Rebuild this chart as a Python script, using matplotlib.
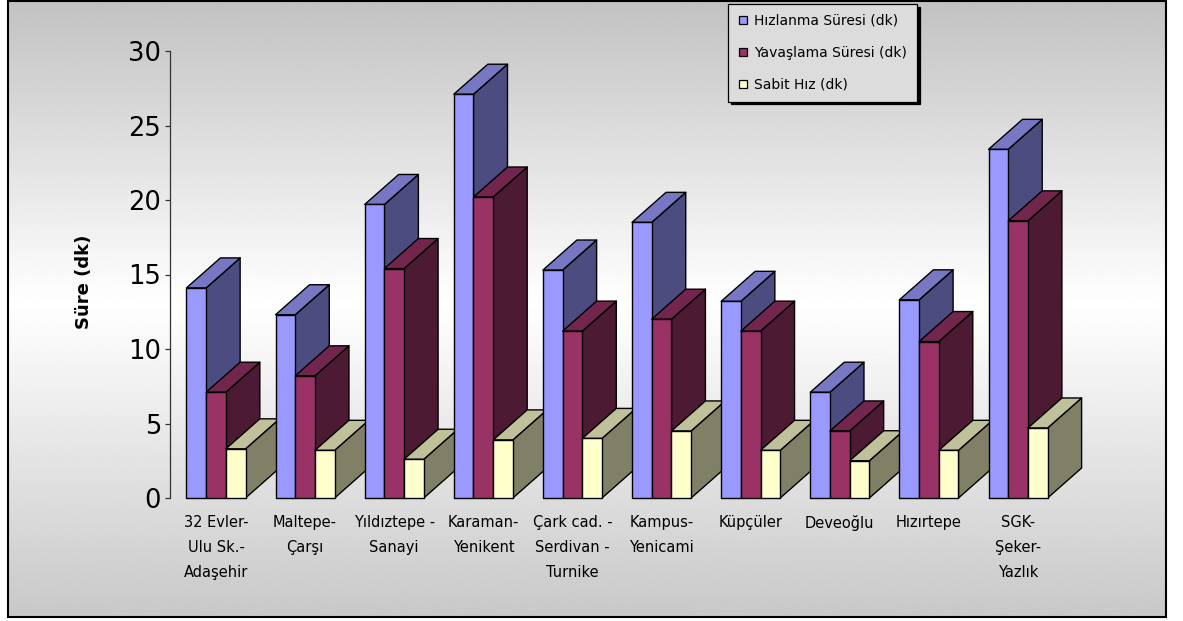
import numpy as np
import matplotlib
matplotlib.use("Agg")
import matplotlib.pyplot as plt
from matplotlib.patches import Polygon, Rectangle
from matplotlib.lines import Line2D

plt.rcParams['font.family'] = ['DejaVu Sans']

# ---- data ----
categories = [
    "32 Evler-\nUlu Sk.-\nAdaşehir",
    "Maltepe-\nÇarşı",
    "Yıldıztepe -\nSanayi",
    "Karaman-\nYenikent",
    "Çark cad. -\nSerdivan -\nTurnike",
    "Kampus-\nYenicami",
    "Küpçüler",
    "Deveoğlu",
    "Hızırtepe",
    "SGK-\nŞeker-\nYazlık",
]
series_names = ["Hızlanma Süresi (dk)", "Yavaşlama Süresi (dk)", "Sabit Hız (dk)"]
hizlanma = [14.1, 12.3, 19.7, 27.1, 15.3, 18.5, 13.2, 7.1, 13.3, 23.4]
yavaslama = [7.1, 8.2, 15.4, 20.2, 11.2, 12.0, 11.2, 4.5, 10.5, 18.6]
sabit = [3.3, 3.2, 2.6, 3.9, 4.0, 4.5, 3.2, 2.5, 3.2, 4.7]
y_ticks = [0, 5, 10, 15, 20, 25, 30]
y_label = "Süre (dk)"

front_colors = ["#9999FF", "#993366", "#FFFFCC"]
side_colors = ["#4C4C80", "#4D1A33", "#808066"]
top_colors = ["#7777C4", "#73264D", "#C0C09A"]

W, H = 1183, 621
fig = plt.figure(figsize=(W / 100, H / 100), dpi=100)
fig.patch.set_facecolor("white")

# ---- background panel with vertical grey-white-grey gradient ----
bg = fig.add_axes([0, 0, 1, 1], zorder=0)
bg.set_xlim(0, W)
bg.set_ylim(H, 0)
bg.axis("off")
t = np.linspace(0, 1, 400)
shade = np.interp(t, [0.0, 0.49, 1.0], [0.76, 1.0, 0.785])
grad = np.repeat(shade[:, None], 2, axis=1)
bg.imshow(grad, cmap="gray", vmin=0, vmax=1, aspect="auto",
          extent=(8, 1166, 617, 1), interpolation="bilinear")
bg.add_patch(Rectangle((8, 1), 1158, 616, fill=False, edgecolor="black", lw=1.5))

# ---- main axes ----
x_left_px, x_right_px = 170, 1125
y_bot_px, y_top_px = 498, 51
ax = fig.add_axes([x_left_px / W, (H - y_bot_px) / H,
                   (x_right_px - x_left_px) / W, (y_bot_px - y_top_px) / H], zorder=1)
ax.patch.set_alpha(0)
ax.set_xlim(-0.516, 10.2)
ax.set_ylim(0, 30)
for s in ["top", "right", "bottom"]:
    ax.spines[s].set_visible(False)
ax.spines["left"].set_color("#333333")
ax.spines["left"].set_linewidth(0.9)
ax.set_yticks(y_ticks)
ax.tick_params(axis="y", direction="out", length=3.5, width=0.9, color="#333333",
               labelsize=18.5, pad=3)
ax.set_xticks(np.arange(len(categories)))
ax.set_xticklabels(categories, fontsize=10.5, linespacing=1.83)
ax.tick_params(axis="x", length=0, pad=12.5)

# depth offset of the 3D bars, expressed in data units
fig.canvas.draw()
p0 = ax.transData.transform((0, 0))
p1 = ax.transData.transform((1, 1))
dx = 34 / (p1[0] - p0[0])
dy = 30 / (p1[1] - p0[1])

bw = 0.221
all_series = [hizlanma, yavaslama, sabit]
for i in range(len(categories)):
    for j, vals in enumerate(all_series):
        v = vals[i]
        x0 = i - 1.5 * bw + j * bw
        x1 = x0 + bw
        kw = dict(edgecolor="black", lw=1.0, joinstyle="round", clip_on=False)
        side = Polygon([(x1, 0), (x1 + dx, dy), (x1 + dx, v + dy), (x1, v)],
                       facecolor=side_colors[j], **kw)
        top = Polygon([(x0, v), (x1, v), (x1 + dx, v + dy), (x0 + dx, v + dy)],
                      facecolor=top_colors[j], **kw)
        front = Polygon([(x0, 0), (x1, 0), (x1, v), (x0, v)],
                        facecolor=front_colors[j], **kw)
        for p in (side, top, front):
            ax.add_patch(p)

fig.text(84 / W, 1 - 282 / H, y_label, rotation=90, ha="center", va="center",
         fontsize=13, fontweight="bold")

# ---- legend ----
handles = [Line2D([], [], ls="none", marker="s", markersize=6,
                  markerfacecolor=c, markeredgecolor="black", markeredgewidth=0.9)
           for c in front_colors]
leg = fig.legend(handles, series_names, loc="upper left",
                 bbox_to_anchor=(728 / W, 1 - 4 / H), bbox_transform=fig.transFigure,
                 fontsize=10, frameon=True, fancybox=False,
                 shadow={"color": "black", "alpha": 1.0},
                 handlelength=0.8, handletextpad=0.4, labelspacing=1.3,
                 borderpad=0.7, borderaxespad=0)
leg.get_frame().set_facecolor("#DCDCDC")
leg.get_frame().set_edgecolor("black")
leg.get_frame().set_linewidth(0.9)
leg.set_zorder(5)

fig.savefig("out.png", dpi=100, facecolor=fig.get_facecolor())
